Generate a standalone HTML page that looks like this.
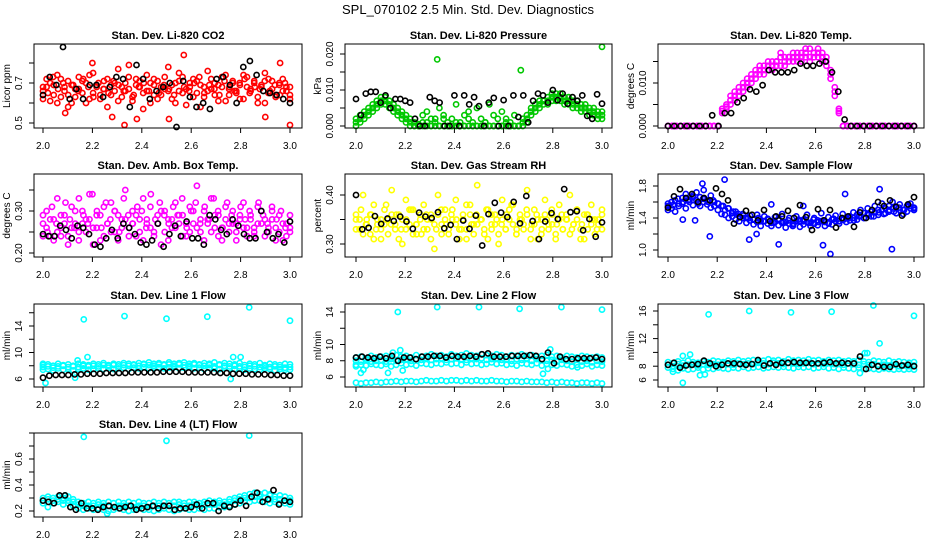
<!DOCTYPE html>
<html><head><meta charset="utf-8"><style>
body{margin:0;background:#fff;}
svg{display:block;font-family:"Liberation Sans",sans-serif;}
</style></head><body>
<svg id="chart" width="936" height="540" viewBox="0 0 936 540">
<rect width="936" height="540" fill="#fff"/>
<text x="468" y="14" text-anchor="middle" font-size="13">SPL_070102  2.5 Min. Std. Dev. Diagnostics</text>
</svg>
<script>
// ---- data (x evenly spaced from 2.0 to 3.0 unless given) ----
const xTicks=[2.0,2.2,2.4,2.6,2.8,3.0];
const xTickLabels=["2.0","2.2","2.4","2.6","2.8","3.0"];

const co2RedA=[0.66,0.72,0.61,0.69,0.74,0.63,0.68,0.71,0.6,0.67,0.73,0.65,0.7,0.62,0.75,0.68,0.64,0.71,0.58,0.69,0.66,0.77,0.63,0.7,0.67,0.61,0.72,0.68,0.65,0.74,0.6,0.69,0.71,0.64,0.67,0.78,0.62,0.7,0.66,0.73,0.59,0.68,0.72,0.65,0.69,0.63,0.76,0.67,0.7,0.61,0.68,0.74,0.64,0.71,0.66,0.69,0.62,0.73,0.67,0.7,0.6,0.68,0.75,0.65,0.71,0.63,0.69,0.72,0.66,0.64];
const co2RedB=[0.62,0.68,0.7,0.64,0.6,0.72,0.66,0.58,0.69,0.63,0.67,0.71,0.6,0.74,0.65,0.69,0.62,0.67,0.72,0.64,0.7,0.61,0.68,0.66,0.79,0.63,0.69,0.71,0.57,0.66,0.7,0.64,0.62,0.68,0.73,0.66,0.69,0.6,0.75,0.65,0.67,0.7,0.63,0.71,0.58,0.68,0.66,0.72,0.64,0.69,0.73,0.61,0.67,0.7,0.65,0.62,0.74,0.68,0.66,0.71,0.63,0.69,0.6,0.72,0.67,0.64,0.7,0.66,0.68,0.62];
const co2RedC=[0.68,0.65,0.73,0.67,0.7,0.64,0.69,0.66,0.72,0.68,0.63,0.7,0.67,0.65,0.71,0.69,0.66,0.73,0.64,0.68,0.7,0.66,0.72,0.65,0.69,0.67,0.64,0.71,0.68,0.66,0.7,0.73,0.65,0.69,0.67,0.64,0.71,0.68,0.66,0.7,0.72,0.65,0.68,0.67,0.71,0.66,0.69,0.64,0.7,0.68];
const co2OutX=[2.09,2.2,2.33,2.38,2.51,2.57,2.9,2.96,3.0,2.28];
const co2OutY=[0.55,0.8,0.49,0.52,0.52,0.84,0.53,0.8,0.49,0.53];
const co2Black=[0.64,0.73,0.69,0.88,0.62,0.67,0.62,0.69,0.69,0.63,0.68,0.73,0.72,0.58,0.79,0.72,0.62,0.66,0.68,0.7,0.48,0.71,0.63,0.58,0.6,0.57,0.72,0.73,0.69,0.6,0.78,0.81,0.74,0.66,0.65,0.64,0.62,0.6];

const presGreenA=[0.002,0.003,0.004,0.005,0.006,0.007,0.008,0.008,0.007,0.006,0.005,0.004,0.003,0.002,0.001,0.0005,0.003,0.004,0.002,0.001,0.005,0.003,0.0,0.002,0.006,0.001,0.003,0.004,0.0,0.005,0.002,0.001,0.006,0.003,0.0,0.004,0.002,0.001,0.003,0.0,0.001,0.003,0.005,0.006,0.007,0.007,0.008,0.009,0.009,0.009,0.008,0.008,0.007,0.007,0.006,0.006,0.005,0.005,0.004,0.004];
const presGreenB=[0.001,0.001,0.002,0.003,0.004,0.005,0.006,0.006,0.005,0.004,0.003,0.002,0.001,0.0,0.0,0.0,0.0,0.001,0.0,0.0,0.0,0.002,0.0,0.0,0.001,0.0,0.0,0.002,0.0,0.0,0.0,0.001,0.0,0.0,0.0,0.0,0.001,0.0,0.0,0.0,0.0,0.001,0.003,0.004,0.005,0.006,0.006,0.007,0.007,0.007,0.006,0.006,0.005,0.005,0.004,0.004,0.003,0.003,0.002,0.002];
const presGreenC=[0.0,0.002,0.003,0.004,0.005,0.006,0.007,0.007,0.006,0.005,0.004,0.003,0.002,0.001,0.0,0.0,0.001,0.0,0.0,0.002,0.0,0.0,0.001,0.0,0.0,0.0,0.0,0.0,0.001,0.0,0.0,0.0,0.0,0.0,0.002,0.0,0.0,0.0,0.0,0.0,0.002,0.002,0.004,0.005,0.006,0.007,0.007,0.008,0.008,0.008,0.007,0.007,0.006,0.006,0.005,0.005,0.004,0.004,0.003,0.003];
const presOutX=[2.33,2.67,3.0];
const presOutY=[0.0185,0.0155,0.022];
const presBlack=[0.0075,0.003,0.009,0.0095,0.0095,0.0065,0.0085,0.005,0.0075,0.0075,0.007,0.0065,0.002,0.0,0.0,0.008,0.007,0.0065,0.0,0.0,0.0085,0.0,0.0085,0.006,0.008,0.0055,0.0,0.0065,0.0078,0.0,0.0072,0.0,0.0085,0.0025,0.0085,0.001,0.007,0.009,0.0085,0.0065,0.01,0.0072,0.009,0.0062,0.008,0.007,0.0085,0.0028,0.002,0.0088,0.0062];

const tempA=[0,0,0,0,0,0,0,0,0,0,0,0,0,0.004,0.005,0.006,0.008,0.009,0.010,0.011,0.012,0.012,0.013,0.014,0.014,0.015,0.015,0.016,0.016,0.016,0.017,0.016,0.017,0.017,0.018,0.017,0.018,0.017,0.016,0.013,0.009,0.004,0,0,0,0,0,0,0,0,0,0,0,0,0,0,0,0,0,0];
const tempB=[0,0,0,0,0,0,0,0,0,0,0,0,0,0.003,0.004,0.005,0.006,0.007,0.008,0.009,0.010,0.011,0.012,0.012,0.013,0.013,0.014,0.014,0.014,0.015,0.015,0.015,0.015,0.016,0.015,0.016,0.016,0.015,0.014,0.011,0.007,0.003,0,0,0,0,0,0,0,0,0,0,0,0,0,0,0,0,0,0];
const tempC=[0,0,0,0,0,0,0,0,0,0,0,0,0,0.0035,0.0045,0.007,0.007,0.008,0.009,0.010,0.011,0.013,0.014,0.013,0.015,0.014,0.015,0.017,0.015,0.016,0.016,0.017,0.016,0.018,0.016,0.017,0.017,0.016,0.015,0.012,0.008,0.0035,0,0,0,0,0,0,0,0,0,0,0,0,0,0,0,0,0,0];
const tempBlack=[0,0,0,0,0,0,0,0.0025,0,0.003,0.003,0.0055,0.0065,0.0085,0.008,0.0095,0.013,0.0125,0.0125,0.0125,0.013,0.0145,0.014,0.014,0.0145,0.015,0.0125,0.008,0.0015,0,0,0,0,0,0,0,0,0,0,0];

const ambA=[0.27,0.30,0.24,0.28,0.33,0.26,0.29,0.22,0.31,0.27,0.25,0.30,0.28,0.34,0.26,0.29,0.23,0.31,0.27,0.32,0.25,0.29,0.28,0.35,0.26,0.30,0.24,0.28,0.33,0.27,0.31,0.25,0.29,0.22,0.30,0.28,0.26,0.32,0.27,0.29,0.24,0.31,0.27,0.36,0.25,0.30,0.28,0.33,0.26,0.29,0.23,0.31,0.27,0.30,0.25,0.28,0.32,0.26,0.29,0.24,0.31,0.27,0.28,0.25,0.30,0.26,0.29,0.23,0.27,0.25];
const ambB=[0.24,0.26,0.28,0.23,0.25,0.29,0.27,0.24,0.26,0.30,0.23,0.27,0.25,0.28,0.22,0.26,0.29,0.24,0.27,0.25,0.30,0.23,0.26,0.28,0.24,0.27,0.29,0.25,0.23,0.28,0.26,0.24,0.27,0.30,0.25,0.23,0.28,0.26,0.29,0.24,0.27,0.25,0.30,0.26,0.28,0.23,0.27,0.25,0.29,0.24,0.26,0.28,0.25,0.27,0.23,0.29,0.26,0.24,0.28,0.25,0.27,0.30,0.24,0.26,0.28,0.23,0.25,0.27,0.24,0.26];
const ambC=[0.29,0.25,0.31,0.27,0.24,0.32,0.28,0.26,0.33,0.29,0.27,0.34,0.30,0.26,0.32,0.28,0.30,0.25,0.33,0.29,0.27,0.31,0.30,0.26,0.34,0.28,0.32,0.29,0.27,0.31,0.29,0.33,0.26,0.30,0.32,0.27,0.31,0.28,0.33,0.30,0.26,0.32,0.29,0.27,0.31,0.28,0.30,0.26,0.32,0.29,0.27,0.31,0.28,0.30,0.26,0.29];
const ambBlack=[0.245,0.24,0.24,0.265,0.255,0.235,0.265,0.26,0.245,0.22,0.215,0.235,0.255,0.235,0.27,0.26,0.245,0.225,0.22,0.23,0.27,0.215,0.245,0.265,0.24,0.275,0.235,0.235,0.22,0.29,0.28,0.255,0.245,0.28,0.265,0.245,0.235,0.235,0.3,0.25,0.235,0.245,0.225,0.275];

const rhA=[0.36,0.33,0.40,0.35,0.32,0.38,0.34,0.31,0.37,0.35,0.41,0.33,0.36,0.30,0.39,0.34,0.37,0.32,0.35,0.38,0.33,0.36,0.29,0.40,0.34,0.37,0.32,0.35,0.39,0.33,0.36,0.31,0.38,0.34,0.42,0.35,0.32,0.37,0.34,0.36,0.30,0.39,0.33,0.35,0.38,0.32,0.36,0.34,0.41,0.33,0.37,0.31,0.35,0.39,0.34,0.36,0.32,0.38,0.33,0.35,0.40,0.34,0.37,0.31,0.36,0.33,0.38,0.35,0.34,0.37];
const rhB=[0.33,0.35,0.32,0.34,0.36,0.31,0.35,0.33,0.34,0.32,0.36,0.34,0.31,0.35,0.33,0.37,0.32,0.34,0.36,0.33,0.35,0.31,0.34,0.36,0.32,0.35,0.33,0.37,0.34,0.31,0.35,0.33,0.36,0.32,0.34,0.35,0.33,0.31,0.36,0.34,0.32,0.35,0.33,0.37,0.34,0.32,0.35,0.33,0.36,0.31,0.34,0.35,0.32,0.36,0.33,0.34,0.31,0.35,0.33,0.36,0.32,0.34,0.35,0.33,0.31,0.36,0.34,0.32,0.35,0.33];
const rhC=[0.35,0.37,0.34,0.36,0.33,0.35,0.38,0.34,0.36,0.33,0.35,0.37,0.34,0.32,0.36,0.35,0.33,0.37,0.34,0.36,0.35,0.33,0.38,0.34,0.36,0.35,0.37,0.33,0.35,0.34,0.36,0.38,0.33,0.35,0.37,0.34,0.36,0.33,0.35,0.37,0.34,0.36,0.35,0.33,0.37,0.34,0.36,0.35,0.33,0.36];
const rhBlack=[0.40,0.33,0.333,0.357,0.341,0.352,0.347,0.356,0.346,0.331,0.364,0.356,0.353,0.365,0.332,0.339,0.31,0.348,0.331,0.358,0.297,0.361,0.384,0.364,0.355,0.386,0.342,0.398,0.347,0.31,0.346,0.363,0.351,0.412,0.365,0.367,0.328,0.351,0.315,0.344];

const sfA=[1.55,1.60,1.62,1.58,1.65,1.70,1.63,1.68,1.72,1.66,1.75,1.62,1.68,1.60,1.58,1.55,1.50,1.52,1.46,1.48,1.42,1.45,1.40,1.43,1.38,1.44,1.36,1.42,1.39,1.34,1.41,1.37,1.45,1.35,1.40,1.32,1.42,1.36,1.38,1.44,1.34,1.40,1.37,1.46,1.35,1.41,1.38,1.43,1.36,1.45,1.40,1.42,1.47,1.44,1.50,1.46,1.52,1.48,1.55,1.50,1.58,1.52,1.55,1.60,1.53,1.57,1.50,1.55,1.58,1.52];
const sfB=[1.50,1.52,1.48,1.55,1.58,1.52,1.60,1.56,1.62,1.55,1.60,1.57,1.53,1.55,1.50,1.45,1.44,1.40,1.42,1.38,1.36,1.40,1.34,1.37,1.32,1.35,1.30,1.36,1.33,1.30,1.35,1.31,1.34,1.28,1.33,1.30,1.36,1.29,1.32,1.35,1.30,1.33,1.31,1.36,1.30,1.34,1.32,1.36,1.33,1.38,1.35,1.37,1.40,1.38,1.43,1.40,1.45,1.42,1.47,1.44,1.50,1.46,1.48,1.52,1.46,1.50,1.45,1.48,1.52,1.50];
const sfC=[1.58,1.56,1.64,1.60,1.62,1.66,1.58,1.64,1.60,1.62,1.58,1.55,1.52,1.48,1.45,1.43,1.40,1.38,1.40,1.36,1.38,1.34,1.39,1.35,1.37,1.33,1.38,1.36,1.34,1.38,1.35,1.37,1.33,1.39,1.36,1.38,1.40,1.37,1.42,1.40,1.44,1.42,1.47,1.45,1.50,1.48,1.53,1.50,1.55,1.53];
const sfOutX=[2.06,2.11,2.17,2.23,2.33,2.45,2.63,2.66,2.91,2.72,2.86,2.42,2.55,2.14,2.36];
const sfOutY=[1.38,1.37,1.17,1.88,1.13,1.07,1.06,0.95,1.01,1.70,1.76,1.57,1.55,1.83,1.20];
const sfBlack=[1.53,1.67,1.76,1.65,1.70,1.60,1.65,1.62,1.77,1.70,1.62,1.33,1.41,1.49,1.44,1.37,1.50,1.36,1.42,1.42,1.49,1.40,1.56,1.41,1.25,1.51,1.37,1.50,1.28,1.40,1.42,1.29,1.47,1.40,1.50,1.60,1.55,1.62,1.54,1.43,1.57,1.66];

const l1A=[8.1,8.2,8.0,8.3,8.1,8.2,8.0,8.3,8.2,8.1,8.3,8.2,8.4,8.1,8.3,8.2,8.4,8.3,8.2,8.4,8.3,8.5,8.3,8.4,8.2,8.5,8.3,8.4,8.5,8.3,8.4,8.2,8.4,8.3,8.5,8.2,8.4,8.3,8.2,8.4,8.1,8.3,8.2,8.4,8.1,8.3,8.2,8.1,8.3,8.2];
const l1B=[7.4,7.5,7.3,7.6,7.4,7.5,7.3,7.5,7.6,7.4,7.5,7.6,7.5,7.7,7.5,7.6,7.7,7.5,7.7,7.6,7.8,7.6,7.7,7.8,7.6,7.7,7.8,7.6,7.7,7.8,7.6,7.7,7.5,7.7,7.6,7.5,7.7,7.6,7.5,7.6,7.4,7.6,7.5,7.4,7.6,7.5,7.3,7.5,7.4,7.4];
const l1C=[7.8,7.9,7.7,7.9,8.0,7.8,7.9,7.8,8.0,7.9,8.0,7.9,8.1,8.0,8.1,7.9,8.1,8.0,8.1,8.0,8.2,8.1,8.0,8.2,8.1,8.2,8.0,8.2,8.1,8.0,8.2,8.1,8.0,8.1,7.9,8.1,8.0,7.9,8.0,7.9,7.8,8.0,7.9,7.8,7.9,7.8,7.9,7.8,7.7,7.8];
const l1OutX=[2.0,2.01,2.13,2.14,2.165,2.18,2.33,2.5,2.665,2.76,2.77,2.8,2.835,3.0];
const l1OutY=[8.3,5.4,6.2,8.8,15.0,9.3,15.5,15.1,15.4,6.0,9.3,9.3,16.8,14.8];
const l1Black=[6.2,6.5,6.6,6.6,6.6,6.7,6.7,6.8,6.8,6.8,6.9,6.9,6.9,6.9,7.0,7.0,7.0,7.0,7.0,7.1,7.1,7.1,7.1,7.0,7.0,7.0,7.0,7.0,6.9,6.9,6.8,6.8,6.8,6.7,6.7,6.7,6.6,6.6,6.5,6.5];

const l2A=[8.4,8.5,8.3,8.6,8.4,8.5,8.6,8.4,8.7,8.5,8.6,8.4,8.7,8.5,8.6,8.8,8.6,8.7,8.5,8.8,8.6,8.7,8.9,8.7,8.6,8.8,8.7,8.6,8.8,8.7,8.5,8.7,8.6,8.8,8.6,8.7,8.5,8.6,8.7,8.5,8.6,8.4,8.6,8.5,8.4,8.6,8.5,8.4,8.5,8.4];
const l2B=[7.3,7.5,7.4,7.6,7.5,7.4,7.6,7.3,7.5,7.7,7.5,7.6,7.4,7.7,7.6,7.5,7.7,7.6,7.8,7.6,7.7,7.5,7.8,7.6,7.7,7.5,7.6,7.8,7.6,7.7,7.5,7.6,7.4,7.7,7.6,7.5,7.7,7.4,7.6,7.5,7.4,7.6,7.5,7.3,7.5,7.4,7.6,7.3,7.5,7.4];
const l2C=[8.0,7.9,8.1,7.9,8.0,8.1,7.9,8.2,8.0,8.1,8.2,8.0,8.2,8.1,8.3,8.1,8.2,8.3,8.1,8.2,8.3,8.2,8.1,8.3,8.2,8.3,8.1,8.2,8.3,8.1,8.2,8.0,8.2,8.1,8.3,8.0,8.2,8.1,8.0,8.1,7.9,8.1,8.0,7.9,8.1,7.9,8.0,7.8,8.0,7.9];
const l2D=[5.3,5.2,5.3,5.3,5.4,5.3,5.4,5.4,5.5,5.4,5.5,5.5,5.4,5.5,5.6,5.5,5.5,5.6,5.5,5.6,5.6,5.5,5.6,5.5,5.6,5.5,5.5,5.6,5.5,5.5,5.4,5.5,5.5,5.4,5.5,5.4,5.4,5.4,5.3,5.4,5.3,5.4,5.3,5.3,5.2,5.3,5.3,5.2,5.3,5.2];
const l2OutX=[2.17,2.33,2.5,2.665,2.835,3.0,2.02,2.03,2.18,2.19,2.13,2.76,2.78,2.9,2.0,2.15,2.79];
const l2OutY=[14.0,14.6,14.6,14.4,14.6,14.3,6.5,6.9,9.3,6.8,6.5,6.4,7.0,7.2,7.5,9.0,9.4];
const l2Black=[8.4,8.5,8.4,8.3,8.5,8.3,8.6,8.0,8.4,8.4,8.2,8.5,8.5,8.6,8.6,8.4,8.6,8.5,8.5,8.6,8.5,8.8,8.9,8.5,8.5,8.5,8.6,8.6,8.6,8.7,8.6,8.2,9.0,7.7,8.5,8.2,8.2,8.3,8.3,8.3,8.4,8.2];

const l3A=[8.6,8.4,8.7,8.5,8.8,8.6,8.5,8.7,8.6,8.8,8.7,8.6,8.8,8.7,8.9,8.7,8.8,8.9,8.7,8.8,9.0,8.8,8.9,8.7,9.0,8.8,8.9,8.8,9.0,8.8,8.9,8.7,8.9,8.8,8.9,8.7,8.8,8.7,8.9,8.7,8.6,8.8,8.7,8.6,8.8,8.6,8.7,8.6,8.5,8.6];
const l3B=[7.8,7.6,7.4,7.7,7.5,7.6,7.8,7.5,7.7,7.6,7.8,7.7,7.6,7.8,7.7,7.9,7.7,7.8,7.9,7.7,7.8,7.9,7.8,7.9,7.8,7.7,7.9,7.8,7.9,7.7,7.8,7.9,7.7,7.8,7.6,7.8,7.7,7.6,7.8,7.6,7.7,7.6,7.5,7.7,7.6,7.5,7.6,7.5,7.6,7.5];
const l3C=[8.2,8.0,8.3,8.1,8.2,8.3,8.1,8.3,8.2,8.3,8.2,8.4,8.3,8.2,8.4,8.3,8.4,8.3,8.5,8.4,8.3,8.5,8.4,8.3,8.5,8.4,8.3,8.4,8.5,8.3,8.4,8.3,8.5,8.3,8.4,8.2,8.4,8.3,8.2,8.3,8.2,8.3,8.1,8.2,8.1,8.2,8.0,8.1,8.0,8.1];
const l3OutX=[2.165,2.33,2.5,2.665,2.835,3.0,2.86,2.06,2.09,2.13,2.02,2.06,2.78,2.81,2.15,2.8];
const l3OutY=[15.5,16.0,15.8,15.9,16.8,15.3,11.3,9.5,9.7,6.7,7.2,5.6,7.0,9.9,6.8,9.9];
const l3Black=[8.2,8.5,7.8,8.1,8.2,8.3,8.8,8.4,8.0,8.2,8.4,8.4,8.3,8.2,8.3,8.9,8.1,8.4,8.2,8.5,8.5,8.6,8.5,8.5,8.4,8.4,8.5,8.6,8.4,8.5,8.4,8.4,9.4,7.6,8.2,8.0,7.9,7.9,8.3,8.1,8.2,8.0];

const l4A=[0.30,0.31,0.30,0.31,0.30,0.31,0.29,0.27,0.26,0.27,0.26,0.27,0.26,0.27,0.26,0.27,0.26,0.27,0.26,0.27,0.26,0.26,0.27,0.26,0.27,0.26,0.27,0.27,0.26,0.27,0.27,0.26,0.27,0.28,0.27,0.28,0.27,0.29,0.30,0.31,0.32,0.33,0.34,0.33,0.34,0.32,0.31,0.32,0.31,0.30];
const l4B=[0.26,0.27,0.26,0.27,0.25,0.26,0.24,0.22,0.21,0.22,0.21,0.22,0.21,0.20,0.21,0.22,0.21,0.20,0.21,0.22,0.21,0.21,0.20,0.21,0.22,0.21,0.20,0.21,0.22,0.21,0.21,0.22,0.21,0.22,0.22,0.23,0.23,0.24,0.25,0.26,0.27,0.27,0.28,0.28,0.27,0.26,0.27,0.26,0.26,0.25];
const l4C=[0.28,0.29,0.28,0.29,0.28,0.28,0.27,0.25,0.24,0.24,0.24,0.25,0.24,0.24,0.23,0.24,0.24,0.24,0.23,0.24,0.24,0.23,0.24,0.24,0.24,0.24,0.24,0.25,0.24,0.24,0.25,0.24,0.25,0.25,0.25,0.26,0.25,0.27,0.28,0.29,0.30,0.30,0.31,0.31,0.30,0.29,0.29,0.29,0.28,0.28];
const l4OutX=[2.165,2.5,2.835,2.02,2.26,2.09,2.92];
const l4OutY=[0.77,0.74,0.78,0.23,0.18,0.32,0.33];
const l4Black=[0.28,0.27,0.26,0.32,0.32,0.23,0.21,0.26,0.22,0.22,0.21,0.23,0.24,0.23,0.22,0.23,0.24,0.21,0.22,0.23,0.24,0.22,0.24,0.24,0.21,0.22,0.22,0.23,0.25,0.22,0.26,0.26,0.20,0.24,0.23,0.25,0.28,0.24,0.31,0.34,0.27,0.29,0.36,0.25,0.28,0.27];

// ---- layout ----
const NS="http://www.w3.org/2000/svg";
const svg=document.getElementById("chart");
const cols=[{b0:34,b1:302,x2:43,x3:290},{b0:345,b1:612,x2:356,x3:602},{b0:658,b1:924,x2:668,x3:914}];
const rows=[{t:44,b:128},{t:174,b:257},{t:304,b:387},{t:433,b:517}];
const RED="#ff0000",GRN="#00c800",MAG="#ff00ff",YEL="#ffff00",BLU="#0000ff",CYN="#00ffff",BLK="#000000";

const panels=[
 {name:"co2",c:0,r:0,title:"Stan. Dev. Li-820 CO2",ylab:"Licor ppm",yv:[0.5,0.7],yp:[123,83],ticks:[0.5,0.6,0.7,0.8],labels:["0.5","","0.7",""],
  series:[[co2RedA,RED],[co2RedB,RED],[co2RedC,RED]],outs:[[co2OutX,co2OutY,RED]],black:co2Black},
 {name:"pressure",c:1,r:0,title:"Stan. Dev. Li-820 Pressure",ylab:"kPa",yv:[0,0.02],yp:[126,54],ticks:[0,0.005,0.01,0.015,0.02],labels:["0.000","","0.010","","0.020"],
  series:[[presGreenA,GRN],[presGreenB,GRN],[presGreenC,GRN]],outs:[[presOutX,presOutY,GRN]],black:presBlack},
 {name:"temp",c:2,r:0,title:"Stan. Dev. Li-820 Temp.",ylab:"degrees C",yv:[0,0.01],yp:[126,83],ticks:[0,0.005,0.01,0.015],labels:["0.000","","0.010",""],
  series:[[tempA,MAG],[tempB,MAG],[tempC,MAG]],outs:[],black:tempBlack},
 {name:"amb-temp",c:0,r:1,title:"Stan. Dev. Amb. Box Temp.",ylab:"degrees C",yv:[0.2,0.3],yp:[253,211],ticks:[0.2,0.25,0.3,0.35],labels:["0.20","","0.30",""],
  series:[[ambA,MAG],[ambB,MAG],[ambC,MAG]],outs:[],black:ambBlack},
 {name:"rh",c:1,r:1,title:"Stan. Dev. Gas Stream RH",ylab:"percent",yv:[0.3,0.4],yp:[244,195],ticks:[0.3,0.35,0.4],labels:["0.30","","0.40"],
  series:[[rhA,YEL],[rhB,YEL],[rhC,YEL]],outs:[],black:rhBlack},
 {name:"sample-flow",c:2,r:1,title:"Stan. Dev. Sample Flow",ylab:"ml/min",yv:[1.0,1.8],yp:[250,186],ticks:[1.0,1.2,1.4,1.6,1.8],labels:["1.0","","1.4","","1.8"],
  series:[[sfA,BLU],[sfB,BLU],[sfC,BLU]],outs:[[sfOutX,sfOutY,BLU]],black:sfBlack},
 {name:"line1",c:0,r:2,title:"Stan. Dev. Line 1 Flow",ylab:"ml/min",yv:[6,14],yp:[379,326],ticks:[6,8,10,12,14,16],labels:["6","","10","","14",""],
  series:[[l1A,CYN],[l1B,CYN],[l1C,CYN]],outs:[[l1OutX,l1OutY,CYN]],black:l1Black},
 {name:"line2",c:1,r:2,title:"Stan. Dev. Line 2 Flow",ylab:"ml/min",yv:[6,14],yp:[377,312],ticks:[6,8,10,12,14],labels:["6","8","10","","14"],
  series:[[l2A,CYN],[l2B,CYN],[l2C,CYN],[l2D,CYN]],outs:[[l2OutX,l2OutY,CYN]],black:l2Black},
 {name:"line3",c:2,r:2,title:"Stan. Dev. Line 3 Flow",ylab:"ml/min",yv:[6,16],yp:[380,311],ticks:[6,8,10,12,14,16],labels:["6","8","","12","","16"],
  series:[[l3A,CYN],[l3B,CYN],[l3C,CYN]],outs:[[l3OutX,l3OutY,CYN]],black:l3Black},
 {name:"line4",c:0,r:3,title:"Stan. Dev. Line 4 (LT) Flow",ylab:"ml/min",yv:[0.2,0.6],yp:[511,459],ticks:[0.2,0.3,0.4,0.5,0.6,0.7,0.8],labels:["0.2","","0.4","","0.6","",""],
  series:[[l4A,CYN],[l4B,CYN],[l4C,CYN]],outs:[[l4OutX,l4OutY,CYN]],black:l4Black}
];

function mk(tag,attrs,parent){const e=document.createElementNS(NS,tag);for(const k in attrs)e.setAttribute(k,attrs[k]);parent.appendChild(e);return e;}
function pt(g,x,y,col,w){
 const c=mk("circle",{cx:x.toFixed(1),cy:y.toFixed(1),r:2.6,fill:"none",stroke:col,"stroke-width":w},g);
 
 
}

panels.forEach(p=>{
 const col=cols[p.c],row=rows[p.r];
 const xs=v=>col.x2+(v-2)*(col.x3-col.x2);
 const ys=v=>p.yp[0]+(v-p.yv[0])*(p.yp[1]-p.yp[0])/(p.yv[1]-p.yv[0]);
 const g=mk("g",{},svg);
 
 
 const t=mk("text",{x:(col.b0+col.b1)/2,y:row.t-5,"text-anchor":"middle","font-size":11,"font-weight":"bold"},g);
 t.textContent=p.title;
 
 
 const pg=mk("g",{},g);
 
 
 p.series.forEach(s=>{const arr=s[0];arr.forEach((v,i)=>{const yy=ys(v);pt(pg,xs(2+i/(arr.length-1)),yy,s[1],1.6);});});
 p.outs.forEach(o=>{o[0].forEach((xv,i)=>pt(pg,xs(xv),ys(o[1][i]),o[2],1.6));});
 p.black.forEach((v,i)=>pt(pg,xs(2+i/(p.black.length-1)),ys(v),BLK,1.6));
 const box=mk("rect",{x:col.b0,y:row.t,width:col.b1-col.b0,height:row.b-row.t,fill:"none",stroke:"#000","stroke-width":1},g);
 
 
 const xa=mk("g",{},g);
 
 
 xTicks.forEach((v,i)=>{
  const x=xs(v);
  mk("line",{x1:x,x2:x,y1:row.b,y2:row.b+5,stroke:"#000"},xa);
  const tl=mk("text",{x:x,y:row.b+21,"text-anchor":"middle","font-size":10},xa);
  tl.textContent=xTickLabels[i];
  
  
 });
 const ya=mk("g",{},g);
 
 
 mk("line",{x1:col.b0,x2:col.b0,y1:ys(p.ticks[0]),y2:ys(p.ticks[p.ticks.length-1]),stroke:"#000"},ya);
 p.ticks.forEach((v,i)=>{
  const y=ys(v);
  mk("line",{x1:col.b0-5,x2:col.b0,y1:y,y2:y,stroke:"#000"},ya);
  if(p.labels[i]){
   const lx=col.b0-12;
   const tl=mk("text",{x:lx,y:y,"text-anchor":"middle","font-size":10,transform:`rotate(-90 ${lx} ${y})`},ya);
   tl.textContent=p.labels[i];
   
   
  }
 });
 const cy=(row.t+row.b)/2, lx=col.b0-24;
 const yl=mk("text",{x:lx,y:cy,"text-anchor":"middle","font-size":10,transform:`rotate(-90 ${lx} ${cy})`},g);
 yl.textContent=p.ylab;
 
 
});
</script>
</body></html>
